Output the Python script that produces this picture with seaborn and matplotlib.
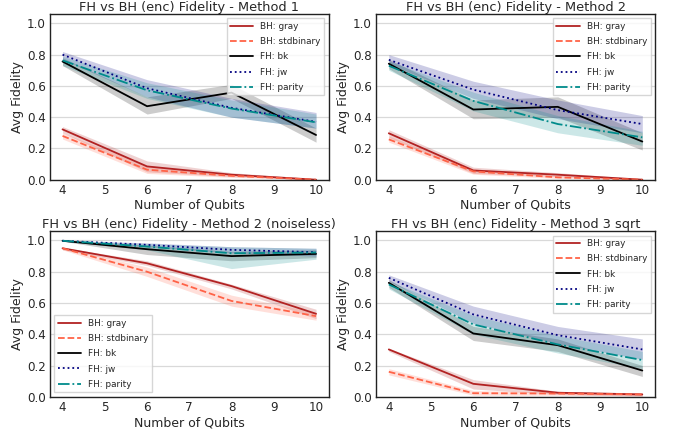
import numpy as np
import pandas as pd
import matplotlib
matplotlib.use("Agg")
import matplotlib.pyplot as plt
import seaborn as sns

qubits = [4, 6, 8, 10]
series_names = ["BH: gray", "BH: stdbinary", "FH: bk", "FH: jw", "FH: parity"]
titles = ["FH vs BH (enc) Fidelity - Method 1",
          "FH vs BH (enc) Fidelity - Method 2",
          "FH vs BH (enc) Fidelity - Method 2 (noiseless)",
          "FH vs BH (enc) Fidelity - Method 3 sqrt"]

# Method 1
m1_mean = {"BH: gray": [0.322, 0.085, 0.032, 0.0],
           "BH: stdbinary": [0.280, 0.064, 0.025, 0.0],
           "FH: bk": [0.756, 0.470, 0.557, 0.286],
           "FH: jw": [0.800, 0.585, 0.460, 0.370],
           "FH: parity": [0.763, 0.572, 0.455, 0.367]}
m1_low = {"BH: gray": [0.30, 0.05, 0.02, 0.0],
          "BH: stdbinary": [0.26, 0.04, 0.015, 0.0],
          "FH: bk": [0.73, 0.42, 0.52, 0.24],
          "FH: jw": [0.77, 0.53, 0.40, 0.33],
          "FH: parity": [0.73, 0.52, 0.40, 0.33]}
m1_high = {"BH: gray": [0.34, 0.12, 0.045, 0.005],
           "BH: stdbinary": [0.30, 0.09, 0.035, 0.003],
           "FH: bk": [0.78, 0.53, 0.61, 0.33],
           "FH: jw": [0.82, 0.64, 0.52, 0.43],
           "FH: parity": [0.79, 0.62, 0.51, 0.42]}

# Method 2
m2_mean = {"BH: gray": [0.297, 0.059, 0.032, 0.0],
           "BH: stdbinary": [0.258, 0.053, 0.015, 0.0],
           "FH: bk": [0.742, 0.449, 0.466, 0.244],
           "FH: jw": [0.767, 0.576, 0.445, 0.356],
           "FH: parity": [0.729, 0.504, 0.356, 0.271]}
m2_low = {"BH: gray": [0.27, 0.04, 0.02, 0.0],
          "BH: stdbinary": [0.24, 0.035, 0.008, 0.0],
          "FH: bk": [0.71, 0.39, 0.40, 0.19],
          "FH: jw": [0.74, 0.52, 0.39, 0.30],
          "FH: parity": [0.70, 0.44, 0.30, 0.22]}
m2_high = {"BH: gray": [0.32, 0.08, 0.045, 0.005],
           "BH: stdbinary": [0.28, 0.07, 0.025, 0.003],
           "FH: bk": [0.77, 0.51, 0.53, 0.30],
           "FH: jw": [0.80, 0.63, 0.51, 0.41],
           "FH: parity": [0.76, 0.56, 0.41, 0.31]}

# Method 2 noiseless
m2n_mean = {"BH: gray": [0.950, 0.854, 0.708, 0.531],
            "BH: stdbinary": [0.950, 0.800, 0.613, 0.516],
            "FH: bk": [0.998, 0.944, 0.900, 0.914],
            "FH: jw": [0.998, 0.972, 0.940, 0.925],
            "FH: parity": [0.998, 0.961, 0.918, 0.923]}
m2n_low = {"BH: gray": [0.94, 0.84, 0.69, 0.50],
           "BH: stdbinary": [0.94, 0.77, 0.58, 0.49],
           "FH: bk": [0.995, 0.91, 0.87, 0.89],
           "FH: jw": [0.995, 0.96, 0.92, 0.90],
           "FH: parity": [0.995, 0.94, 0.82, 0.88]}
m2n_high = {"BH: gray": [0.955, 0.87, 0.72, 0.56],
            "BH: stdbinary": [0.955, 0.83, 0.65, 0.54],
            "FH: bk": [1.0, 0.97, 0.93, 0.94],
            "FH: jw": [1.0, 0.985, 0.96, 0.95],
            "FH: parity": [1.0, 0.98, 0.96, 0.95]}

# Method 3 sqrt
m3_mean = {"BH: gray": [0.303, 0.083, 0.026, 0.015],
           "BH: stdbinary": [0.160, 0.023, 0.021, 0.015],
           "FH: bk": [0.729, 0.405, 0.330, 0.168],
           "FH: jw": [0.761, 0.527, 0.394, 0.303],
           "FH: parity": [0.719, 0.463, 0.335, 0.235]}
m3_low = {"BH: gray": [0.29, 0.05, 0.015, 0.005],
          "BH: stdbinary": [0.14, 0.01, 0.01, 0.005],
          "FH: bk": [0.70, 0.36, 0.29, 0.13],
          "FH: jw": [0.74, 0.47, 0.34, 0.24],
          "FH: parity": [0.69, 0.40, 0.28, 0.18]}
m3_high = {"BH: gray": [0.31, 0.11, 0.035, 0.025],
           "BH: stdbinary": [0.18, 0.04, 0.03, 0.025],
           "FH: bk": [0.75, 0.45, 0.37, 0.20],
           "FH: jw": [0.78, 0.58, 0.45, 0.37],
           "FH: parity": [0.74, 0.52, 0.39, 0.29]}

panels = [(m1_mean, m1_low, m1_high, "upper right"),
          (m2_mean, m2_low, m2_high, "upper right"),
          (m2n_mean, m2n_low, m2n_high, "lower left"),
          (m3_mean, m3_low, m3_high, "upper right")]

colors = {"BH: gray": "#b22222", "BH: stdbinary": "#ff6347",
          "FH: bk": "black", "FH: jw": "navy", "FH: parity": "#008b8b"}
styles = {"BH: gray": "-", "BH: stdbinary": "--",
          "FH: bk": "-", "FH: jw": ":", "FH: parity": "-."}

sns.set_theme(style="white")
plt.rcParams["font.family"] = ["DejaVu Sans"]

fig, axes = plt.subplots(2, 2, figsize=(6.83, 4.37), dpi=100)
fig.subplots_adjust(left=0.073, right=0.959, top=0.968, bottom=0.092,
                    wspace=0.17, hspace=0.31)

for ax, title, (mean, low, high, loc) in zip(axes.flat, titles, panels):
    for name in series_names:
        df = pd.DataFrame({"qubits": qubits, "fid": mean[name]})
        sns.lineplot(data=df, x="qubits", y="fid", ax=ax, color=colors[name],
                     linestyle=styles[name], linewidth=1.3, label=name)
        ax.fill_between(qubits, low[name], high[name], color=colors[name],
                        alpha=0.2, linewidth=0)
    ax.set_ylim(0, 1.06)
    ax.set_yticks([0.0, 0.2, 0.4, 0.6, 0.8, 1.0])
    ax.set_xticks([4, 5, 6, 7, 8, 9, 10])
    ax.yaxis.grid(True, color="#d9d9d9", linewidth=0.9)
    ax.set_axisbelow(True)
    for s in ax.spines.values():
        s.set_color("#222222")
        s.set_linewidth(1.0)
    ax.tick_params(labelsize=8.6, length=0, pad=3, colors="#262626")
    ax.set_xlabel("Number of Qubits", fontsize=9, labelpad=1.5)
    ax.set_ylabel("Avg Fidelity", fontsize=9, labelpad=2)
    ax.set_title(title, fontsize=9.3, pad=2.5)
    ax.legend(loc=loc, fontsize=6.4, labelspacing=0.7, handlelength=2.6,
              frameon=True, framealpha=0.8, edgecolor="#cccccc", fancybox=False)

fig.savefig("out.png", dpi=100)
